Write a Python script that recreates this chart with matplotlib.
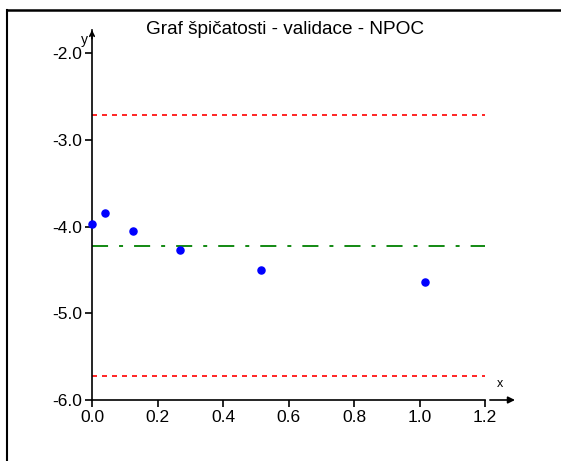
import numpy as np
import matplotlib.pyplot as plt
from matplotlib.lines import Line2D

# kurtosis plot values
x_vals = [0.001, 0.04, 0.125, 0.27, 0.516, 1.017]
y_vals = [-3.975, -3.844, -4.052, -4.271, -4.505, -4.636]
center_level = -4.225
upper_limit = -2.715
lower_limit = -5.72
x_ticks = [0.0, 0.2, 0.4, 0.6, 0.8, 1.0, 1.2]
y_ticks = [-6.0, -5.0, -4.0, -3.0, -2.0]
title = "Graf špičatosti - validace - NPOC"

plt.rcParams["font.family"] = ["Liberation Sans", "DejaVu Sans"]

W, H = 561, 461
fig = plt.figure(figsize=(W / 100, H / 100), dpi=100)

# outer frame: top and left edges only
fig.add_artist(Line2D([7 / W, 7 / W], [0, 1 - 10 / H], color="black", lw=1.5))
fig.add_artist(Line2D([7 / W, 1], [1 - 10 / H, 1 - 10 / H], color="black", lw=1.8))

x0, x1 = 92, 515
y0, y1 = 400, 30
ax = fig.add_axes([x0 / W, (H - y0) / H, (x1 - x0) / W, (y0 - y1) / H])
xmax = 1.2 + (x1 - 485) / 327.5
ymax = -6 + (y0 - y1) / 86.75
ax.set_xlim(0, xmax)
ax.set_ylim(-6, ymax)

for s in ["top", "right"]:
    ax.spines[s].set_visible(False)
ax.spines["left"].set_linewidth(1.2)
ax.spines["bottom"].set_linewidth(1.2)
ax.spines["bottom"].set_bounds(0, 1.2)

ax.set_xticks(x_ticks)
ax.set_xticklabels([f"{v:.1f}" for v in x_ticks])
ax.set_yticks(y_ticks)
ax.set_yticklabels([f"{v:.1f}" for v in y_ticks])
ax.tick_params(direction="out", length=5, width=1.2, labelsize=12.5, pad=2)

# arrows on the axes
ax.annotate("", xy=(xmax, -6), xytext=(1.215, -6),
            arrowprops=dict(arrowstyle="-|>", color="black", lw=1.2,
                            mutation_scale=10, shrinkA=0, shrinkB=0),
            annotation_clip=False)
ax.annotate("", xy=(0, ymax), xytext=(0, ymax - 0.1),
            arrowprops=dict(arrowstyle="->", color="black", lw=1.2,
                            mutation_scale=8, shrinkA=0, shrinkB=0),
            annotation_clip=False)
ax.text(1.245, -5.88, "x", fontsize=9, ha="center", va="bottom")
ax.text(-0.012, ymax - 0.04, "y", fontsize=10, ha="right", va="top")

ax.hlines([upper_limit, lower_limit], 0, 1.2, colors="red", linestyles=(0, (3, 3)), lw=1.2)
ax.hlines(center_level, 0, 1.2, colors="green", linestyles=(0, (8.9, 6.1, 2.2, 6.1)), lw=1.3)
ax.scatter(x_vals, y_vals, s=26, color="blue", zorder=5, clip_on=False)

fig.text(285 / W, 1 - 29 / H, title, fontsize=13.7, ha="center", va="center")

plt.savefig("out.png", dpi=100)
